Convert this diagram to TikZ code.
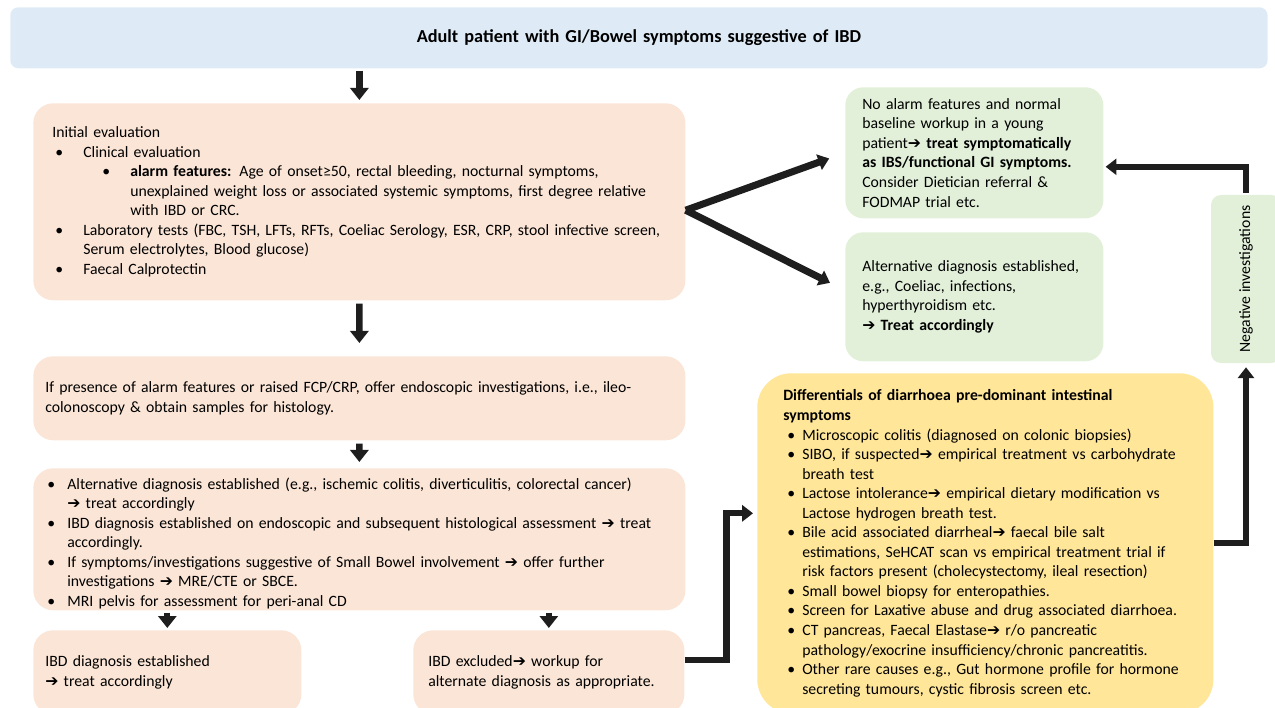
\documentclass[tikz,border=0pt]{standalone}
\usepackage{fontspec}
\setmainfont{Carlito}
\newfontfamily\arrowfont{DejaVu Sans}
\usetikzlibrary{arrows.meta}
\definecolor{topblue}{HTML}{DEEBF7}
\definecolor{peach}{HTML}{FBE5D6}
\definecolor{mint}{HTML}{E2F0D9}
\definecolor{sand}{HTML}{FFE699}
\definecolor{ink}{HTML}{1E1E1E}
\newcommand{\harr}{{\arrowfont\char"2794}}
\newcommand{\bul}[3]{\par\hangindent=#2\hangafter=1\noindent\makebox[#2][l]{\hspace{#1}\textbullet}#3}
\begin{document}
\begin{tikzpicture}[x=0.025cm, y=-0.025cm, every node/.style={anchor=north west, align=left, inner ysep=0pt, font=\fontsize{11.2}{13.9}\selectfont},
	box/.style={fill=peach, rounded corners=0.5cm},
	downarr/.style={ink, line width=4.5pt, -{Triangle[length=0.3cm,width=0.45cm]}},
	conn/.style={ink, line width=4.5pt, line join=miter, -{Triangle[length=0.27cm,width=0.4cm]}}]
	\useasboundingbox (0,0) rectangle (1275,708);
	\clip (0,0) rectangle (1275,708);
	
	\node (1) at (10,7) [box, fill=topblue, rounded corners=0.2cm, inner xsep=0pt, text width=31.425cm, minimum height=1.525cm, align=center, font=\bfseries\fontsize{13}{15}\selectfont]{Adult patient with GI/Bowel symptoms suggestive of IBD};
	\node (2) at (33,103) [box, inner xsep=0.475cm, text width=15.35cm, minimum height=4.925cm]{Initial evaluation
		\bul{0.075cm}{0.775cm}{Clinical evaluation}
		\bul{1.25cm}{1.95cm}{\textbf{alarm features:} Age of onset≥50, rectal bleeding, nocturnal symptoms,\newline unexplained weight loss or associated systemic symptoms, first degree relative\newline with IBD or CRC.}
		\bul{0.075cm}{0.775cm}{Laboratory tests (FBC, TSH, LFTs, RFTs, Coeliac Serology, ESR, CRP, stool infective screen,\newline Serum electrolytes, Blood glucose)}
		\bul{0.075cm}{0.775cm}{Faecal Calprotectin}\par};
	\node (3) at (33,356) [box, inner xsep=0.3cm, text width=15.7cm, minimum height=2.1cm]{If presence of alarm features or raised FCP/CRP, offer endoscopic investigations, i.e., ileo-\newline colonoscopy \& obtain samples for histology.};
	\node (4) at (33,468) [box, inner xsep=0.225cm, text width=15.85cm, minimum height=3.55cm]{\bul{0.125cm}{0.625cm}{Alternative diagnosis established (e.g., ischemic colitis, diverticulitis, colorectal cancer)\newline \harr{} treat accordingly}
		\bul{0.125cm}{0.625cm}{IBD diagnosis established on endoscopic and subsequent histological assessment \harr{} treat\newline accordingly.}
		\bul{0.125cm}{0.625cm}{If symptoms/investigations suggestive of Small Bowel involvement \harr{} offer further\newline investigations \harr{} MRE/CTE or SBCE.}
		\bul{0.125cm}{0.625cm}{MRI pelvis for assessment for peri-anal CD}\par};
	\node (5) at (33,630) [box, inner xsep=0.3cm, text width=6.1cm, minimum height=2.1cm]{IBD diagnosis established\newline \harr{} treat accordingly};
	\node (6) at (413,630) [box, inner xsep=0.375cm, text width=6.025cm, minimum height=2.1cm]{IBD excluded\harr{} workup for\newline alternate diagnosis as appropriate.};
	\node (7) at (757,373) [box, fill=sand, rounded corners=0.85cm, inner xsep=0.65cm, text width=10.1cm, minimum height=8.5cm]{\textbf{Differentials of diarrhoea pre-dominant intestinal\newline symptoms}
		\bul{0.1cm}{0.475cm}{Microscopic colitis (diagnosed on colonic biopsies)}
		\bul{0.1cm}{0.475cm}{SIBO, if suspected\harr{} empirical treatment vs carbohydrate\newline breath test}
		\bul{0.1cm}{0.475cm}{Lactose intolerance\harr{} empirical dietary modification vs\newline Lactose hydrogen breath test.}
		\bul{0.1cm}{0.475cm}{Bile acid associated diarrheal\harr{} faecal bile salt\newline estimations, SeHCAT scan vs empirical treatment trial if\newline risk factors present (cholecystectomy, ileal resection)}
		\bul{0.1cm}{0.475cm}{Small bowel biopsy for enteropathies.}
		\bul{0.1cm}{0.475cm}{Screen for Laxative abuse and drug associated diarrhoea.}
		\bul{0.1cm}{0.475cm}{CT pancreas, Faecal Elastase\harr{} r/o pancreatic\newline pathology/exocrine insufficiency/chronic pancreatitis.}
		\bul{0.1cm}{0.475cm}{Other rare causes e.g., Gut hormone profile for hormone\newline secreting tumours, cystic fibrosis screen etc.}\par};
	\node (8) at (845,87) [box, fill=mint, rounded corners=0.45cm, inner xsep=0.425cm, text width=5.6cm, minimum height=3.275cm]{No alarm features and normal\newline baseline workup in a young\newline patient\harr{} \textbf{treat symptomatically\newline as IBS/functional GI symptoms.}\newline Consider Dietician referral \&\newline FODMAP trial etc.};
	\node (9) at (845,232) [box, fill=mint, rounded corners=0.45cm, inner xsep=0.425cm, text width=5.6cm, minimum height=3.225cm]{Alternative diagnosis established,\newline e.g., Coeliac, infections,\newline hyperthyroidism etc.\newline \harr{} \textbf{Treat accordingly}};
	\node (10) at (1246,279) [box, fill=mint, rounded corners=0.25cm, rotate=90, anchor=center, align=center, minimum width=4.2cm, minimum height=1.75cm]{Negative investigations};
	
	\draw [downarr, shorten <=0.05cm, shorten >=0.075cm] (1.south -| 2.north) -- (2.north);
	\draw [downarr, shorten <=0.075cm, shorten >=0.325cm] (2.south) -- (3.north);
	\draw [downarr, shorten <=0.075cm, shorten >=0.15cm] (3.south) -- (4.north);
	\draw [downarr, shorten <=0.05cm, shorten >=0.05cm] (4.south -| 5.north) -- (5.north);
	\draw [downarr, shorten <=0.05cm, shorten >=0.05cm] (4.south -| 6.north) -- (6.north);
	\draw [conn, line width=5pt, shorten >=0.42cm] ([yshift=-0.21cm]2.east) -- (8.west);
	\draw [conn, line width=5pt, shorten >=0.42cm] ([yshift=-0.21cm]2.east) -- ([yshift=0.16cm]9.west);
	\draw [conn, shorten >=0.1cm] ([yshift=0.3cm]6.east) -- ++(42,0) |- ([yshift=0.75cm]7.west);
	\draw [conn, shorten >=0.1cm] (7.east) -| (10.west);
	\draw [conn, shorten <=0.05cm, shorten >=0.05cm] (10.east) |- ([yshift=-0.35cm]8.east);
	
\end{tikzpicture}
\end{document}
